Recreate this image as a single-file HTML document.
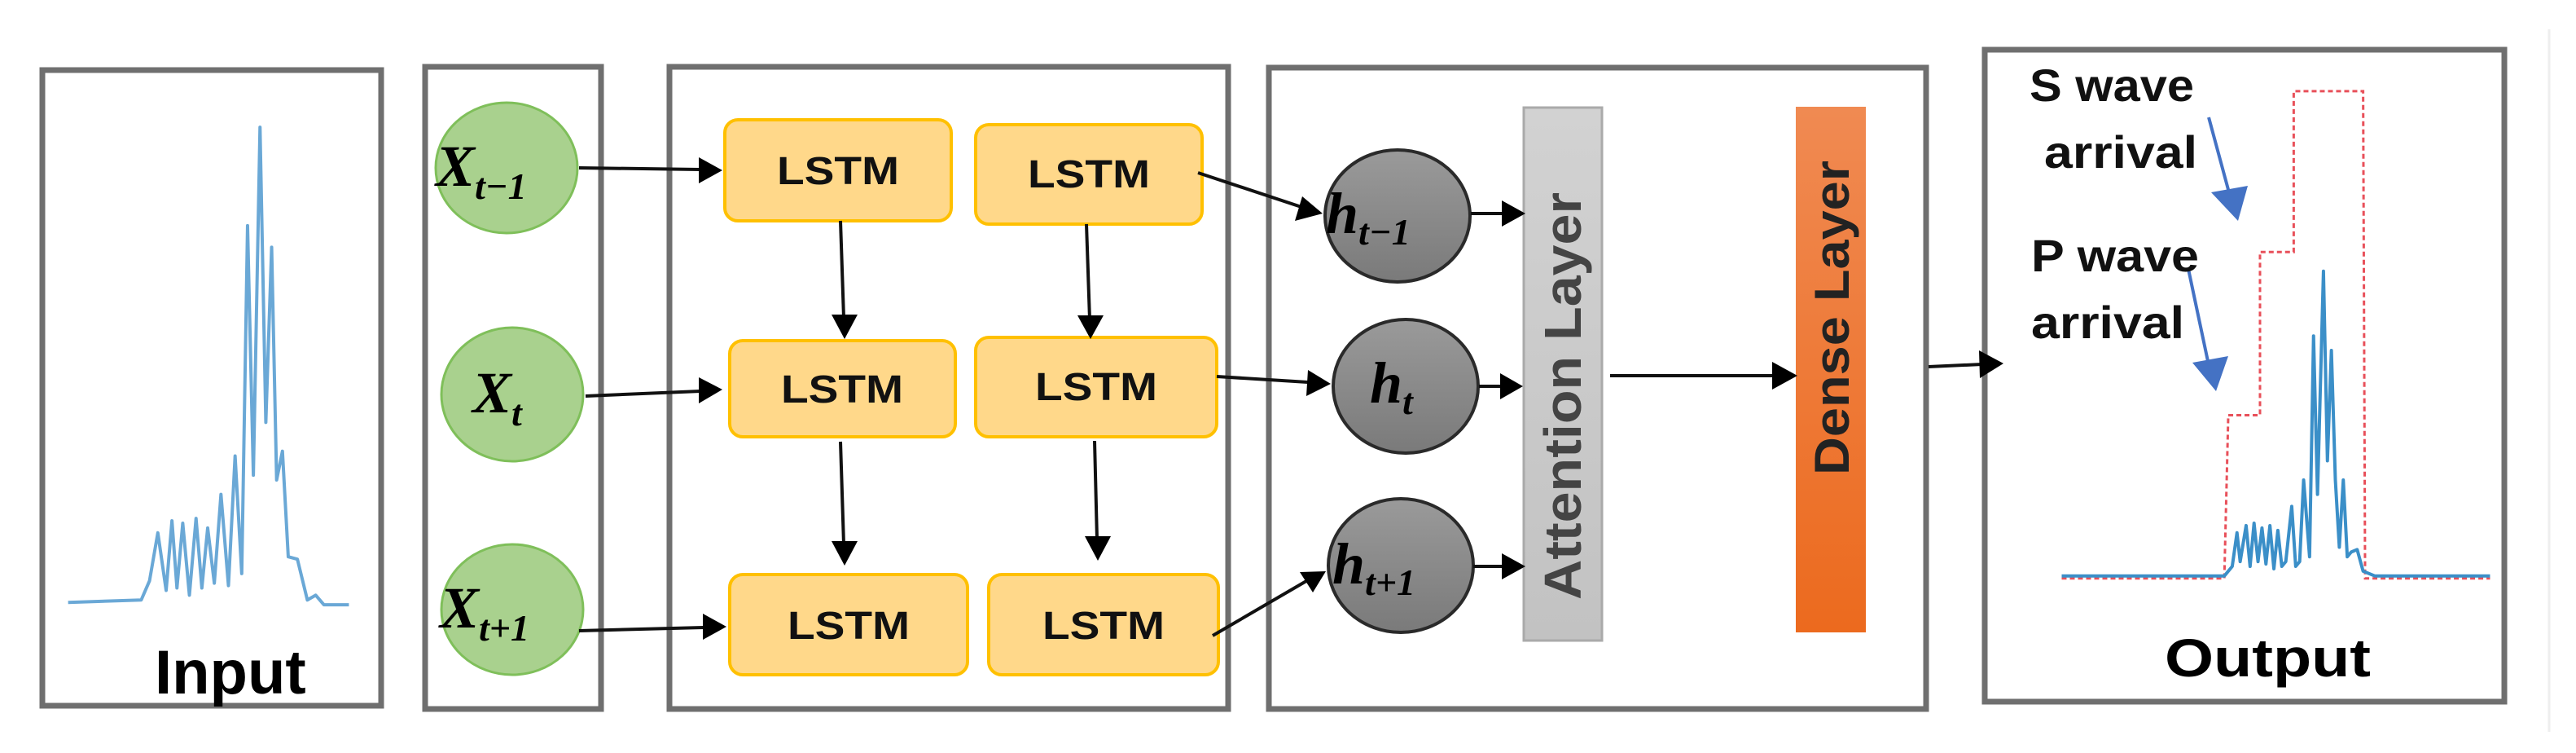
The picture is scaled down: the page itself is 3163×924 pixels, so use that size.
<!DOCTYPE html>
<html><head><meta charset="utf-8"><style>
html,body{margin:0;padding:0;background:#fff}
svg{display:block}
text{font-family:"Liberation Sans",sans-serif}
.m{font-family:"Liberation Serif",serif;font-style:italic;font-weight:bold}
</style></head><body>
<svg width="3163" height="924" viewBox="0 0 3163 924" xmlns="http://www.w3.org/2000/svg">
<defs>
<linearGradient id="hg" x1="0" y1="0" x2="0" y2="1"><stop offset="0" stop-color="#9a9a9a"/><stop offset="1" stop-color="#7a7a7a"/></linearGradient>
<linearGradient id="og" x1="0" y1="0" x2="0" y2="1"><stop offset="0" stop-color="#f08a52"/><stop offset="1" stop-color="#ec6a1e"/></linearGradient>
<linearGradient id="ag" x1="0" y1="0" x2="0" y2="1"><stop offset="0" stop-color="#d2d2d2"/><stop offset="1" stop-color="#c2c2c2"/></linearGradient>
</defs>
<g fill="none" stroke="#6f6f6f" stroke-width="7">
<rect x="52" y="86" width="416" height="780"/>
<rect x="522" y="82" width="216" height="788"/>
<rect x="822" y="82" width="686" height="788"/>
<rect x="1558" y="83" width="807" height="787"/>
<rect x="2437" y="61" width="638" height="800"/>
</g>
<line x1="3130" y1="36" x2="3130" y2="898" stroke="#eee" stroke-width="3"/>
<g transform="scale(1.02,0.589)">
<polyline fill="none" stroke="#6aa8d6" stroke-width="4" vector-effect="non-scaling-stroke" stroke-linejoin="round" points="82,1255 170,1250 180,1210 190,1110 200,1230 207,1085 213,1225 220,1090 228,1240 236,1080 243,1225 250,1100 258,1215 266,1030 275,1220 283,950 291,1195 298,470 305,990 313,265 320,880 327,515 333,1000 340,940 347,1160 358,1165 370,1250 380,1240 390,1260 420,1260"/>
</g>
<text x="190" y="851" font-size="76" font-weight="bold" fill="#000">Input</text>
<g fill="#a9d18e" stroke="#7fbf5a" stroke-width="3">
<ellipse cx="622" cy="206" rx="87" ry="80"/>
<ellipse cx="629" cy="484" rx="87" ry="82"/>
<ellipse cx="629" cy="748" rx="87" ry="80"/>
</g>
<text class="m" x="535" y="228" font-size="72">X<tspan font-size="46" dy="16">t−1</tspan></text>
<text class="m" x="580" y="506" font-size="72">X<tspan font-size="46" dy="16">t</tspan></text>
<text class="m" x="540" y="770" font-size="72">X<tspan font-size="46" dy="16">t+1</tspan></text>
<g fill="#ffd88a" stroke="#ffc000" stroke-width="4">
<rect x="890" y="147" width="278" height="124" rx="16"/>
<rect x="1198" y="153" width="278" height="122" rx="16"/>
<rect x="896" y="418" width="277" height="118" rx="16"/>
<rect x="1198" y="414" width="296" height="122" rx="16"/>
<rect x="896" y="705" width="292" height="123" rx="16"/>
<rect x="1214" y="705" width="282" height="123" rx="16"/>
</g>
<g font-size="48" font-weight="bold" fill="#111" text-anchor="middle">
<text x="1029" y="226" textLength="150" lengthAdjust="spacingAndGlyphs">LSTM</text>
<text x="1337" y="230" textLength="150" lengthAdjust="spacingAndGlyphs">LSTM</text>
<text x="1034" y="494" textLength="150" lengthAdjust="spacingAndGlyphs">LSTM</text>
<text x="1346" y="491" textLength="150" lengthAdjust="spacingAndGlyphs">LSTM</text>
<text x="1042" y="784" textLength="150" lengthAdjust="spacingAndGlyphs">LSTM</text>
<text x="1355" y="784" textLength="150" lengthAdjust="spacingAndGlyphs">LSTM</text>
</g>
<g fill="url(#hg)" stroke="#2a2a2a" stroke-width="4">
<ellipse cx="1716" cy="265" rx="89" ry="81"/>
<ellipse cx="1726" cy="474" rx="89" ry="82"/>
<ellipse cx="1720" cy="694" rx="89" ry="82"/>
</g>
<text class="m" x="1628" y="286" font-size="72">h<tspan font-size="46" dy="14">t−1</tspan></text>
<text class="m" x="1682" y="494" font-size="72">h<tspan font-size="46" dy="14">t</tspan></text>
<text class="m" x="1636" y="716" font-size="72">h<tspan font-size="46" dy="14">t+1</tspan></text>
<rect x="1871" y="132" width="96" height="654" fill="url(#ag)" stroke="#aaa" stroke-width="3"/>
<text transform="translate(1941,486) rotate(-90)" text-anchor="middle" font-size="64" font-weight="bold" fill="#444" textLength="500" lengthAdjust="spacingAndGlyphs">Attention Layer</text>
<rect x="2205" y="131" width="86" height="645" fill="url(#og)"/>
<text transform="translate(2270,390) rotate(-90)" text-anchor="middle" font-size="60" font-weight="bold" fill="#222" textLength="386" lengthAdjust="spacingAndGlyphs">Dense Layer</text>
<g stroke="#111" stroke-width="4" fill="none">
<line x1="711" y1="206" x2="860" y2="208"/>
<line x1="719" y1="486" x2="860" y2="480"/>
<line x1="711" y1="774" x2="864" y2="770"/>
<line x1="1032" y1="271" x2="1036" y2="390"/>
<line x1="1334" y1="275" x2="1338" y2="392"/>
<line x1="1032" y1="542" x2="1036" y2="668"/>
<line x1="1344" y1="541" x2="1347" y2="662"/>
<line x1="1471" y1="212" x2="1598" y2="254"/>
<line x1="1494" y1="462" x2="1606" y2="469"/>
<line x1="1489" y1="780" x2="1604" y2="713"/>
<line x1="1806" y1="262" x2="1848" y2="262"/>
<line x1="1816" y1="474" x2="1846" y2="474"/>
<line x1="1809" y1="695" x2="1848" y2="695"/>
<line x1="1977" y1="461" x2="2180" y2="461"/>
<line x1="2368" y1="450" x2="2434" y2="447"/>
</g>
<g fill="#000">
<polygon points="887,209 858,193 858,225"/>
<polygon points="887,478 858,463 858,495"/>
<polygon points="892,769 863,753 863,785"/>
<polygon points="1037,416 1021,386 1053,386"/>
<polygon points="1339,416 1323,387 1355,387"/>
<polygon points="1037,694 1021,664 1053,664"/>
<polygon points="1348,688 1332,658 1364,658"/>
<polygon points="1624,262 1599,241 1590,271"/>
<polygon points="1634,471 1606,454 1604,486"/>
<polygon points="1628,701 1596,702 1612,727"/>
<polygon points="1873,262 1844,246 1844,278"/>
<polygon points="1870,474 1842,458 1842,490"/>
<polygon points="1873,695 1844,679 1844,711"/>
<polygon points="2207,461 2176,444 2176,478"/>
<polygon points="2460,446 2430,430 2431,464"/>
</g>
<g transform="translate(2400,0) scale(0.487,0.589)">
<polyline fill="none" stroke="#e8505a" stroke-width="3" stroke-dasharray="6,4" vector-effect="non-scaling-stroke" points="270,1205 680,1205 690,865 770,865 770,525 855,525 855,190 1030,190 1035,1205 1350,1205"/>
<polyline fill="none" stroke="#3b8fc8" stroke-width="4" vector-effect="non-scaling-stroke" stroke-linejoin="round" points="270,1200 680,1200 700,1180 712,1110 720,1170 735,1095 745,1180 755,1090 765,1170 775,1100 785,1175 795,1095 805,1185 815,1105 825,1180 835,1170 850,1055 860,1180 870,1170 880,1000 895,1160 905,700 915,1030 930,565 940,960 950,730 960,1000 970,1140 980,1000 990,1160 1000,1150 1015,1145 1030,1190 1060,1200 1350,1200"/>
</g>
<g stroke="#4472c4" stroke-width="4"><line x1="2712" y1="144" x2="2738" y2="240"/><line x1="2687" y1="330" x2="2712" y2="448"/></g>
<g fill="#4472c4"><polygon points="2748,271 2715,236 2760,228"/><polygon points="2721,480 2692,445 2736,437"/></g>
<g font-size="56" font-weight="bold" fill="#111">
<text x="2492" y="124" textLength="202" lengthAdjust="spacingAndGlyphs">S wave</text>
<text x="2510" y="206" textLength="188" lengthAdjust="spacingAndGlyphs">arrival</text>
<text x="2494" y="333" textLength="206" lengthAdjust="spacingAndGlyphs">P wave</text>
<text x="2494" y="415" textLength="188" lengthAdjust="spacingAndGlyphs">arrival</text>
</g>
<text x="2658" y="830" font-size="66" font-weight="bold" fill="#000" textLength="253" lengthAdjust="spacingAndGlyphs">Output</text>
</svg>
</body></html>
